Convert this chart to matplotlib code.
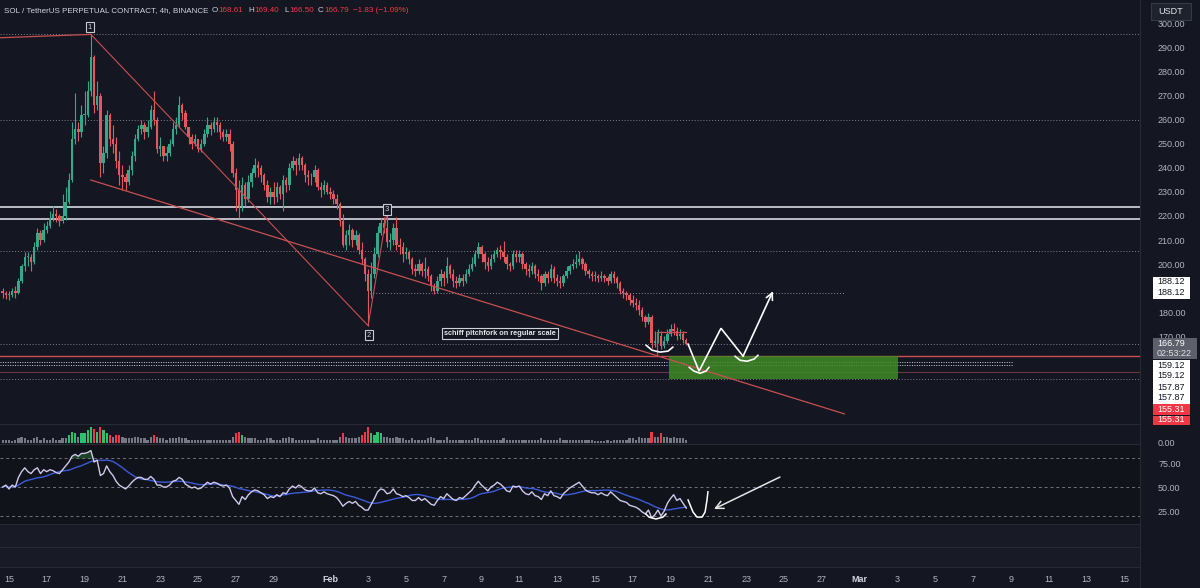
import numpy as np
import matplotlib
matplotlib.use('Agg')
import matplotlib.pyplot as plt
from matplotlib.patches import Rectangle
from matplotlib.ticker import FormatStrFormatter
from matplotlib.transforms import Bbox, TransformedBbox

plt.rcParams['font.family'] = ['Liberation Sans', 'DejaVu Sans']

# ---------------- data (4h candles, x = days after Jan 15 00:00) ----------------
start_day = -1 / 3          # first candle: Jan 14 16:00
bar_days = 1 / 6
first_open = 189

closes = [
    188, 187,                                   # Jan 14
    187, 189, 188, 193, 199, 203,               # Jan 15
    203, 201, 207, 213, 210, 214,               # Jan 16
    216, 219, 221, 220, 218, 220,               # Jan 17
    226, 235, 252, 256, 255, 262,               # Jan 18
    262, 272, 286, 266, 270, 242,               # Jan 19
    246, 262, 252, 250, 243, 237,               # Jan 20
    236, 234, 239, 245, 252, 256,               # Jan 21
    258, 255, 257, 264, 260, 248,               # Jan 22
    249, 245, 246, 250, 256, 258,               # Jan 23
    266, 263, 257, 253, 250, 252,               # Jan 24
    248, 250, 254, 258, 256, 259,               # Jan 25
    258, 255, 253, 254, 250, 238,               # Jan 26
    231, 224, 233, 227, 234, 238,               # Jan 27
    241, 240, 237, 233, 228, 230,               # Jan 28
    228, 232, 229, 235, 233, 240,               # Jan 29
    243, 241, 244, 241, 237, 236,               # Jan 30
    236, 239, 232, 231, 233, 230,               # Jan 31
    229, 227, 225, 218, 208, 212,               # Feb 1
    214, 210, 212, 206, 202, 196,               # Feb 2
    189, 196, 204, 213, 217, 215,               # Feb 3
    209, 210, 215, 208, 207, 204,               # Feb 4
    205, 202, 198, 197, 200, 197,               # Feb 5
    198, 195, 191, 189, 193, 196,               # Feb 6
    194, 199, 196, 193, 192, 194,               # Feb 7
    193, 196, 198, 200, 204, 207,               # Feb 8
    204, 201, 199, 202, 204, 206,               # Feb 9
    205, 203, 200, 199, 204, 203,               # Feb 10
    204, 200, 198, 197, 199, 196,               # Feb 11
    195, 192, 196, 194, 198, 194,               # Feb 12
    193, 192, 195, 197, 199, 200,               # Feb 13
    201, 202, 200, 197, 196, 195,               # Feb 14
    195, 194, 195, 194, 193, 196,               # Feb 15
    194, 192, 189, 188, 187, 185,               # Feb 16
    184, 183, 181, 178, 176, 178,               # Feb 17
    167, 168, 170, 166, 168, 171,               # Feb 18
    173, 172, 170, 171, 168.61, 166.79,         # Feb 19
]

highs = [
    190, 189,
    189, 190, 191, 194, 200, 205,
    205, 204, 209, 215, 214, 217,
    218, 222, 224, 223, 221, 229,
    232, 238, 259, 271, 259, 266,
    272, 276, 295.5, 287, 276, 271,
    249, 264, 263, 258, 253, 247,
    241, 238, 241, 247, 254, 258,
    260, 259, 260, 266, 272, 261,
    253, 249, 249, 252, 259, 261,
    270, 267, 264, 257, 254, 254,
    252, 252, 256, 261, 259, 261,
    261, 259, 256, 256, 256, 251,
    240, 235, 236, 234, 237, 240,
    244, 243, 241, 238, 235, 232,
    234, 234, 233, 237, 236, 242,
    245, 244, 246, 245, 242, 239,
    238, 241, 240, 234, 235, 234,
    232, 231, 229, 226, 221, 214,
    216.5, 215, 214, 213, 209, 203,
    198, 201, 207, 216, 219, 219.5,
    221.5, 213, 217, 219.6, 211, 209,
    207, 206, 203, 200, 202, 201,
    203, 199, 196, 192, 195, 198,
    197, 203, 200, 198, 195, 196,
    196, 198, 200, 203, 206, 209,
    208, 205, 203, 204, 206, 207,
    208, 209.5, 204, 201, 206, 206,
    206, 205, 201, 200, 201, 200,
    198, 196, 197, 197, 200, 199,
    196, 195, 196, 199, 200, 202,
    204, 205.4, 203, 201, 198, 197,
    197, 196, 197, 196, 195, 197,
    197, 195, 193, 190, 189, 188,
    187, 186, 185, 182, 179, 179.5,
    179, 172, 173, 172, 170, 173,
    175, 175.5, 174, 173, 172, 169.4,
]

lows = [
    186, 185.5,
    185, 186.5, 186, 187.5, 192, 197,
    199, 197, 200, 206, 208, 209,
    213, 215, 218, 217.5, 216, 217,
    218.5, 225, 234, 250, 251, 253,
    258, 261, 270, 263, 264, 236,
    238, 244, 249, 246, 240, 233,
    230.6, 231, 233, 237, 243, 251,
    254, 252, 253, 256, 258, 246,
    245, 243, 243, 245, 249, 254,
    257, 260, 256, 250, 248, 249,
    246.5, 246.5, 249, 253, 253.5, 255,
    255, 252, 251, 251, 247, 236,
    222, 219, 222, 224, 226, 232,
    236, 236, 234, 231, 226, 225,
    225, 226, 227, 222, 230, 231,
    239, 237, 239, 239, 234, 233,
    233, 234, 231, 228, 229, 229,
    227, 225, 223, 216, 207, 206,
    208, 207, 208, 204, 200, 193,
    174.4, 186, 194, 203, 212, 213,
    207, 206, 208, 206, 204, 201,
    202, 200, 196, 195, 196, 195,
    194, 193, 189, 187.5, 188, 191,
    191, 192, 194, 190.5, 190, 191,
    191, 192, 195, 197, 199, 202.5,
    201, 198, 197, 198, 201, 203,
    202, 201, 198, 197, 198, 201,
    201, 198, 195.5, 194.5, 196, 194,
    193, 189.4, 191, 192, 193, 192,
    191, 190, 191, 194, 196, 198,
    198.5, 199.5, 198, 195.5, 194, 193,
    193, 192.5, 193, 192.5, 191.5, 192,
    192, 190, 187.5, 186, 185, 183,
    182, 181, 179, 176.5, 174, 175,
    165, 165.5, 167, 164.5, 165, 167,
    170, 170.5, 168.5, 169, 167, 166.5,
]

volumes = [
    2, 2,
    2, 1.5, 2, 3, 4, 3,
    2, 2, 3, 4, 2, 3,
    2, 2, 3, 2, 2, 3,
    3, 5, 7, 6, 4, 6,
    6, 8, 10, 9, 7, 10,
    8, 6, 5, 4, 5, 5,
    4, 3, 3, 3, 4, 4,
    3, 3, 2, 4, 5, 4,
    3, 3, 2, 3, 3, 3,
    4, 3, 3, 2, 2, 2,
    2, 2, 2, 2, 2, 2,
    2, 2, 2, 2, 2, 4,
    6, 7, 5, 4, 3, 3,
    3, 2, 2, 2, 3, 3,
    2, 2, 2, 3, 3, 4,
    3, 2, 2, 2, 2, 2,
    2, 2, 3, 2, 2, 2,
    2, 2, 2, 4, 6, 4,
    3, 3, 3, 4, 5, 7,
    10, 6, 5, 7, 6, 4,
    4, 3, 3, 4, 3, 3,
    2, 2, 3, 2, 2, 2,
    2, 3, 4, 3, 2, 2,
    2, 4, 2, 2, 2, 2,
    2, 2, 2, 2, 3, 3,
    2, 2, 2, 2, 2, 2,
    2, 3, 2, 2, 2, 2,
    2, 2, 2, 2, 2, 2,
    2, 3, 2, 2, 2, 2,
    2, 3, 2, 2, 2, 2,
    2, 2, 2, 2, 2, 2,
    1.5, 1.5, 1.5, 1.5, 2, 1.5,
    2, 2, 2, 2, 2, 3,
    3, 2, 4, 3, 3, 3,
    7, 4, 4, 6, 4, 4,
    3, 4, 3, 3, 3, 2,
]

rsi = [
    50, 52,
    48, 52, 50, 60, 66, 70,
    66, 64, 68, 70, 64, 68,
    66, 68, 67, 65, 64, 68,
    72, 76, 82, 84, 82, 85,
    85, 86, 88, 76, 78, 62,
    64, 72, 66, 62, 56, 52,
    50, 48, 51, 55, 58, 60,
    60, 58, 58, 61, 58, 52,
    52, 50, 50, 52, 56, 57,
    60, 58, 53, 51, 49, 50,
    48, 49, 52, 55, 53, 55,
    54, 52, 51, 52, 49, 40,
    36, 32, 40, 37, 42, 45,
    47, 46, 44, 42, 38, 40,
    39, 42, 40, 44, 43, 48,
    51, 49, 52, 50, 47, 46,
    46, 49, 44, 43, 45, 43,
    42, 41, 39, 35, 30, 33,
    35, 33, 35, 31, 29, 26,
    26, 32, 38, 45, 48, 47,
    43, 44, 48, 43, 42, 40,
    41, 39, 36, 36, 39, 36,
    38, 35, 32, 31, 36, 40,
    38, 43, 40, 37, 36, 39,
    38, 41, 44, 47, 52, 56,
    52, 49, 46, 50, 52, 55,
    53, 50, 46, 45, 51, 50,
    51, 46, 43, 42, 45, 41,
    40, 37, 43, 41, 46, 41,
    40, 38, 43, 46, 49, 51,
    53, 55, 51, 47, 45, 44,
    44, 42, 44, 42, 41, 45,
    42, 39, 36, 35, 34, 31,
    30, 29, 27, 24, 22, 26,
    18, 21, 26, 20, 25, 33,
    38, 42, 36, 38, 33, 28,
]

# pitchfork pivots (day, price)
pivot_days = [4.33, 19.0, 20.0]
pivot_prices = [295.5, 174.4, 221.5]
lead_start = (-0.48, 294.1)
median_end_day = 44.2

# horizontal levels
dotted_levels = [295.5, 260.0, 205.4, 166.79, 152.2]
white_levels = [223.8, 218.7]
level_188 = (188.12, 19.1, 44.2)
white_dotted_levels = [159.12, 157.87]
white_dotted_end = 53.1
red_levels = [161.7, 155.31]
zone = (34.92, 47.04, 152.2, 161.7)       # day0, day1, low, high

# hand drawn marks (day, price) / (day, rsi)
zigzag_d = [35.93, 36.51, 37.67, 38.84, 40.42]
zigzag_p = [166.7, 155.5, 173.3, 161.7, 188.7]
smiles = [
    ([33.70, 34.02, 34.44, 34.87, 35.13], [166.3, 164.2, 163.4, 163.8, 165.5]),
    ([35.98, 36.24, 36.56, 36.88, 37.04], [157.1, 155.5, 154.6, 155.5, 157.1]),
    ([38.41, 38.68, 39.05, 39.42, 39.63], [161.7, 160.0, 159.6, 160.5, 162.1]),
]
rsi_smile_d = [33.70, 33.86, 34.23, 34.60, 34.76]
rsi_smile_v = [21.9, 18.7, 16.7, 18.7, 21.9]
rsi_hook_d = [35.93, 36.19, 36.40, 36.67, 36.83, 36.93, 36.98]
rsi_hook_v = [36.5, 24, 18.7, 18.7, 24, 36.5, 45]
rsi_arrow = ((40.79, 60.4), (37.30, 27.1))

price_ticks = [170, 180, 200, 210, 220, 230, 240, 250, 260, 270, 280, 290, 300]
date_ticks = [0, 2, 4, 6, 8, 10, 12, 14, 17, 19, 21, 23, 25, 27, 29, 31, 33, 35, 37,
              39, 41, 43, 45, 47, 49, 51, 53, 55, 57, 59]
date_labels = ['15', '17', '19', '21', '23', '25', '27', '29', 'Feb', '3', '5', '7', '9',
               '11', '13', '15', '17', '19', '21', '23', '25', '27', 'Mar', '3', '5', '7',
               '9', '11', '13', '15']

# ---------------- style ----------------
W, H = 1200, 588
BG = '#141722'
BG_RSI = '#11131b'
BG_LOW = '#181b26'
SEP = '#262a35'
UP = '#35a88c'
DN = '#e2585c'
TXT = '#b2b5be'
RED = '#c94f52'

XMIN, XMAX = -0.476, 59.84


def rect(x0, y0, x1, y1):
    return [x0 / W, 1 - y1 / H, (x1 - x0) / W, (y1 - y0) / H]


fig = plt.figure(figsize=(W / 100, H / 100), dpi=100, facecolor=BG)
ax = fig.add_axes(rect(0, 0, 1140, 424))
axv = fig.add_axes(rect(0, 424, 1140, 444))
axr = fig.add_axes(rect(0, 444, 1140, 524))
axe1 = fig.add_axes(rect(0, 524, 1140, 547))
axe2 = fig.add_axes(rect(0, 547, 1140, 567))

for a, bg in [(ax, BG), (axv, BG), (axr, BG_RSI), (axe1, BG_LOW), (axe2, BG_LOW)]:
    a.set_facecolor(bg)
    a.set_xlim(XMIN, XMAX)
    for s in a.spines.values():
        s.set_visible(False)
    a.set_xticks([])
    a.yaxis.tick_right()
    a.tick_params(axis='y', length=0, pad=13, labelsize=6.5, colors=TXT)

# ---------------- candles ----------------
c = np.array(closes, dtype=float)
o = np.concatenate([[first_open], c[:-1]])
hi = np.maximum(np.array(highs, dtype=float), np.maximum(o, c))
lo = np.minimum(np.array(lows, dtype=float), np.minimum(o, c))
t = start_day + np.arange(len(c)) * bar_days
up = c >= o
col = np.where(up, UP, DN)

ax.vlines(t, lo, hi, colors=col, lw=0.8, zorder=3)
ax.bar(t, np.maximum(np.abs(c - o), 0.35), bottom=np.minimum(o, c), width=0.13,
       color=col, lw=0, zorder=4)

ax.set_ylim(133.5, 309.8)
ax.set_yticks(price_ticks)
ax.yaxis.set_major_formatter(FormatStrFormatter('%.2f'))

# levels
for lv in dotted_levels:
    ax.axhline(lv, color='#7d808a', lw=0.7, ls=(0, (1, 2)), zorder=2)
for lv in white_levels:
    ax.axhline(lv, color='#c8cad0', lw=1.3, zorder=2)
ax.hlines(level_188[0], level_188[1], level_188[2], color='#8a8d96', lw=0.7,
          ls=(0, (1, 2)), zorder=2)
for lv in white_dotted_levels:
    ax.hlines(lv, XMIN, white_dotted_end, color='#d0d2d8', lw=0.7, ls=(0, (1, 1.5)), zorder=2)
ax.axhline(red_levels[0], color=RED, lw=1.0, zorder=2)
ax.axhline(red_levels[1], color='#6a3440', lw=0.8, zorder=2)

# zone
ax.add_patch(Rectangle((zone[0], zone[2]), zone[1] - zone[0], zone[3] - zone[2],
                       fc='#3f8a26', ec='none', alpha=0.85, zorder=2.5))

# pitchfork
px_, py_ = pivot_days, pivot_prices
ax.plot([lead_start[0], px_[0]], [lead_start[1], py_[0]], color=RED, lw=0.9, zorder=5)
ax.plot(px_, py_, color=RED, lw=0.8, zorder=5)
org_d, org_p = px_[0], (py_[0] + py_[1]) / 2
mid_d, mid_p = (px_[1] + px_[2]) / 2, (py_[1] + py_[2]) / 2
slope = (mid_p - org_p) / (mid_d - org_d)
ax.plot([org_d, median_end_day], [org_p, org_p + slope * (median_end_day - org_d)],
        color=RED, lw=0.9, zorder=5)

box = dict(boxstyle='square,pad=0.2', fc=BG, ec='#c8cad0', lw=0.8)
ax.text(px_[0] - 0.05, py_[0] + 3.0, '1', fontsize=5.5, color='#d1d4dc', ha='center',
        va='center', bbox=box, zorder=6)
ax.text(px_[1] + 0.05, py_[1] - 4.0, '2', fontsize=5.5, color='#d1d4dc', ha='center',
        va='center', bbox=box, zorder=6)
ax.text(px_[2], py_[2] + 1.2, '3', fontsize=5.5, color='#d1d4dc', ha='center',
        va='center', bbox=box, zorder=6)
ax.text(25.98, 171.2, 'schiff pitchfork on regular scale', fontsize=5.3, color='#e6e7ea',
        ha='center', va='center', fontweight='bold',
        bbox=dict(boxstyle='square,pad=0.25', fc=BG, ec='#d0d2d8', lw=0.8), zorder=6)

# small red bracket near the last candles
ax.plot([34.3, 35.8], [171.7, 171.7], color=RED, lw=0.9, zorder=5)
ax.plot([34.3, 34.3], [171.7, 162.5], color=RED, lw=0.9, zorder=5)

# hand drawn
ax.plot(zigzag_d[:-1], zigzag_p[:-1], color='white', lw=1.2, zorder=7, solid_joinstyle='miter')
ax.annotate('', xy=(zigzag_d[-1], zigzag_p[-1]), xytext=(zigzag_d[-2], zigzag_p[-2]),
            arrowprops=dict(arrowstyle='->', color='white', lw=1.2, mutation_scale=12,
                            shrinkA=0, shrinkB=0), zorder=7)
for sd, sp in smiles:
    ax.plot(sd, sp, color='white', lw=1.2, zorder=7, solid_capstyle='round')

# ---------------- volume ----------------
v = np.array(volumes, dtype=float)
vcol = np.where(v >= 5, np.where(up, '#2fbf71', '#f23645'), '#767983')
axv.bar(t, v, width=0.12, color=vcol, lw=0)
axv.set_ylim(-0.7, 12)
axv.set_yticks([0])
axv.yaxis.set_major_formatter(FormatStrFormatter('%.2f'))

# ---------------- RSI ----------------
r = np.array(rsi, dtype=float)
ma = np.convolve(r, np.ones(14), 'full')[:len(r)] / np.minimum(np.arange(1, len(r) + 1), 14)
for lv in (80, 50, 20):
    axr.axhline(lv, color='#70737d', lw=0.7, ls=(0, (3, 3)))
axr.fill_between(t, r, 80, where=r > 80, color='#2e7d32', alpha=0.45, lw=0, interpolate=True)
axr.fill_between(t, r, 20, where=r < 20, color='#b23a48', alpha=0.45, lw=0, interpolate=True)
axr.plot(t, ma, color='#3b5bdb', lw=1.0)
axr.plot(t, r, color='#cfc8ea', lw=1.0)
axr.plot(rsi_smile_d, rsi_smile_v, color='white', lw=1.1)
axr.plot(rsi_hook_d, rsi_hook_v, color='white', lw=1.1)
axr.annotate('', xy=rsi_arrow[1], xytext=rsi_arrow[0],
             arrowprops=dict(arrowstyle='->', color='#e6e6e6', lw=1.1, mutation_scale=14,
                             shrinkA=0, shrinkB=0))
axr.set_ylim(11.5, 94.8)
axr.set_yticks([25, 50, 75])
axr.yaxis.set_major_formatter(FormatStrFormatter('%.2f'))

axe1.set_yticks([])
axe2.set_yticks([])

# date axis
axe2.set_xticks(date_ticks)
axe2.set_xticklabels(date_labels)
axe2.tick_params(axis='x', length=0, pad=5.5, labelsize=6.5, colors=TXT)
for lab in axe2.get_xticklabels():
    if lab.get_text() in ('Feb', 'Mar'):
        lab.set_fontweight('bold')
        lab.set_color('#d1d4dc')

# separators
for yy in (424, 444, 524, 547, 567):
    fig.add_artist(plt.Line2D([0, 1140 / W], [1 - yy / H] * 2, color=SEP, lw=0.8,
                              transform=fig.transFigure))
fig.add_artist(plt.Line2D([1140 / W] * 2, [0, 1], color=SEP, lw=0.8, transform=fig.transFigure))

# ---------------- header ----------------
header = [
    ('SOL / TetherUS PERPETUAL CONTRACT, 4h, BINANCE', 4, '#d1d4dc'),
    ('O', 212, '#d1d4dc'), ('168.61', 218, '#f23645'),
    ('H', 248, '#d1d4dc'), ('169.40', 254, '#f23645'),
    ('L', 284, '#d1d4dc'), ('166.50', 289, '#f23645'),
    ('C', 318, '#d1d4dc'), ('166.79', 324, '#f23645'),
    ('\u22121.83 (\u22121.09%)', 353, '#f23645'),
]
for txt, x0, cc in header:
    fig.text(x0 / W, 1 - 11 / H, txt, fontsize=5.8, color=cc, ha='left', va='center')

# ---------------- right-axis labels ----------------


def label_box(yc, text, fc, tc, x0=1153, x1=1190, hgt=11, clip=None):
    fig.add_artist(Rectangle((x0 / W, 1 - (yc + hgt / 2) / H), (x1 - x0) / W, hgt / H,
                             transform=fig.transFigure, fc=fc, ec='none', zorder=5))
    tx = fig.text((x0 + 4) / W, 1 - yc / H, text, fontsize=6.5, color=tc, ha='left',
                  va='center', zorder=6)
    if clip is not None:
        tx.set_clip_box(TransformedBbox(Bbox.from_extents(0, 1 - clip / H, 1, 1),
                                        fig.transFigure))
        tx.set_clip_on(True)


fig.add_artist(Rectangle((1151 / W, 1 - 20 / H), 40 / W, 17 / H, transform=fig.transFigure,
                         fc='#1e222d', ec='#363a45', lw=0.8, zorder=5))
fig.text(1171 / W, 1 - 11.5 / H, 'USDT', fontsize=6.5, color='#e6e7ea', ha='center',
         va='center', zorder=6)
label_box(282, '188.12', 'white', '#131722')
label_box(293, '188.12', 'white', '#131722')
fig.add_artist(Rectangle((1153 / W, 1 - 359 / H), 44 / W, 21 / H, transform=fig.transFigure,
                         fc='#5d606b', ec='none', zorder=5))
fig.text(1157 / W, 1 - 343.5 / H, '166.79', fontsize=6.5, color='white', va='center', zorder=6)
fig.text(1157 / W, 1 - 353.5 / H, '02:53:22', fontsize=6.5, color='#e0e0e0', va='center',
         zorder=6)
label_box(365, '159.12', 'white', '#131722')
label_box(376, '159.12', 'white', '#131722')
label_box(387, '157.87', 'white', '#131722')
label_box(398, '157.87', 'white', '#131722')
label_box(409, '155.31', '#f23645', 'white')
label_box(420, '155.31', '#f23645', 'white', hgt=9, clip=424)

fig.savefig('out.png', dpi=100, facecolor=BG)
